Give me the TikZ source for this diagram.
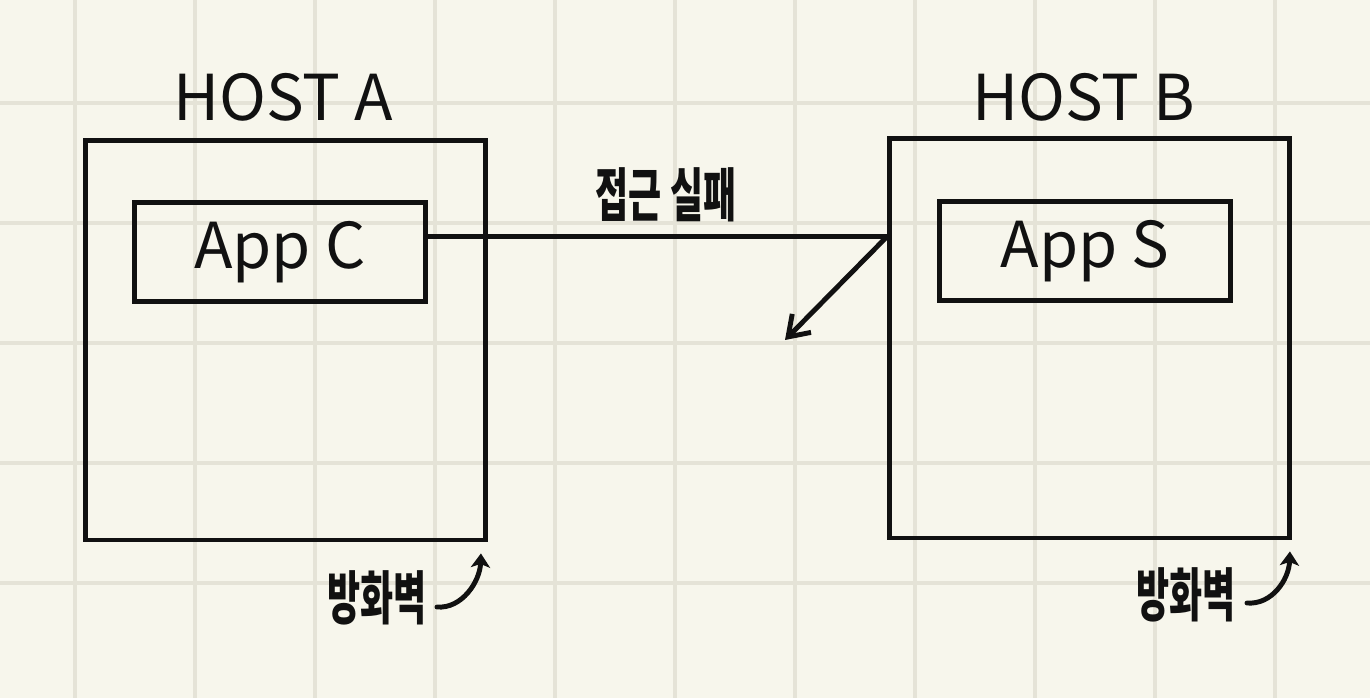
\documentclass[tikz,border=0pt]{standalone}
\usepackage{fontspec}
\newfontfamily\hand{Noto Sans CJK KR}
\newfontfamily\handkr[FakeStretch=0.62]{Noto Sans CJK KR}
\usetikzlibrary{arrows.meta}

\definecolor{paper}{HTML}{F7F6EC}
\definecolor{gridline}{HTML}{E5E3D7}
\definecolor{ink}{HTML}{111111}

\tikzset{
  hostbox/.style={draw=ink, line width=2.8pt, minimum width=8cm, minimum height=8cm, inner sep=0pt},
  appbox/.style={draw=ink, line width=2.8pt, minimum width=5.82cm, minimum height=1.97cm, inner sep=0pt,
                 font=\hand\fontsize{36}{40}\selectfont, text=ink},
  hostlabel/.style={font=\hand\fontsize{36}{40}\selectfont, text=ink, inner sep=0pt},
  krlabel/.style={font=\handkr\bfseries\fontsize{33}{36}\selectfont, text=ink, inner sep=0pt},
  wire/.style={draw=ink, line width=2.8pt},
  fwarrow/.style={draw=ink, line width=2.8pt, line cap=round, -{Stealth[length=8pt,width=11pt,inset=2pt]}}
}

\begin{document}
\begin{tikzpicture}[x=0.02cm, y=-0.02cm]
    % ---- paper with grid ----
    \fill[paper] (0,0) rectangle (1370,698);
    \useasboundingbox (0,0) rectangle (1370,698);
    \foreach \gx in {75,195,...,1275}
        \draw[gridline, line width=2pt] (\gx,0) -- (\gx,698);
    \foreach \gy in {103,223,...,583}
        \draw[gridline, line width=2pt] (0,\gy) -- (1370,\gy);

    % ---- hosts ----
    \node[hostbox] (hostA) at (285.5,340) {};
    \node[hostbox] (hostB) at (1089.5,338) {};
    \node[hostlabel] (labelA) at (283,97) {HOST A};
    \node[hostlabel] (labelB) at (1084,97) {HOST B};

    % ---- apps ----
    \node[appbox] (appC) at (280,252) {App C};
    \node[appbox] (appS) at (1085,251) {App S};

    % ---- blocked connection ----
    \coordinate (lvl) at (0,236.5);
    \coordinate (blocked) at (hostB.west |- lvl);
    \coordinate (bounce) at (785,340);
    \draw[wire] (appC.east |- blocked) -- (blocked);
    \draw[wire, -{Straight Barb[length=11pt,width=15pt]}] (blocked) -- (bounce);
    \node[krlabel] (fail) at (666,195) {접근 실패};

    % ---- firewalls ----
    \node[krlabel] (fwA) at (377,598) {방화벽};
    \node[krlabel] (fwB) at (1186,595) {방화벽};
    \draw[fwarrow] ([shift={(10,9)}]fwA.east) .. controls +(25,2) and +(-1,28) .. ([shift={(-7,11)}]hostA.south east);
    \draw[fwarrow] ([shift={(11,8)}]fwB.east) .. controls +(25,2) and +(-1,28) .. ([shift={(-2,11)}]hostB.south east);
\end{tikzpicture}
\end{document}
